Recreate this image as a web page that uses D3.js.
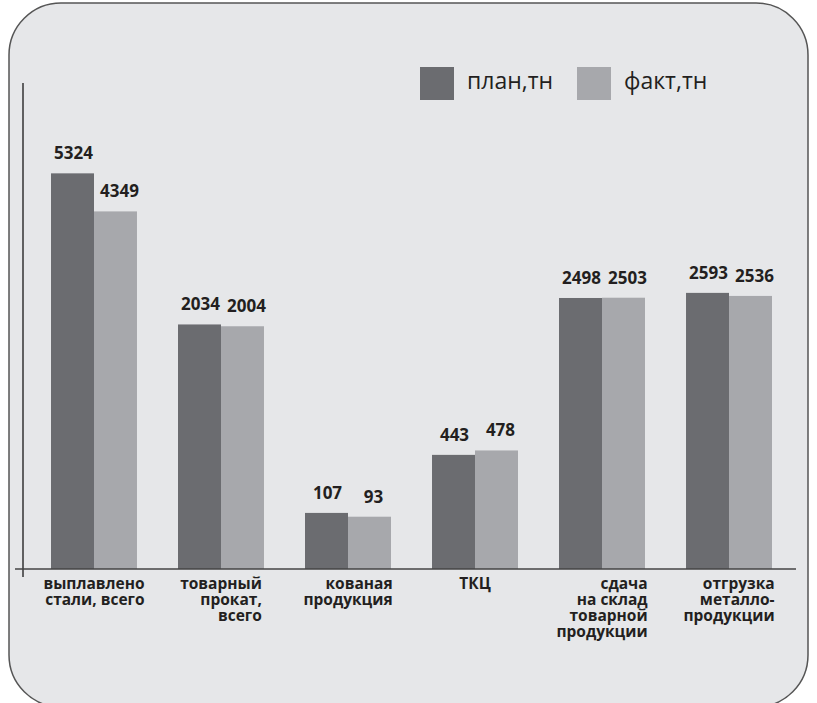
<!DOCTYPE html>
<html>
<head>
<meta charset="utf-8">
<script src="https://cdn.jsdelivr.net/npm/d3@7"></script>
<style>
  body { margin: 0; background: #fff; }
  svg { display: block; }
  text { font-family: "Open Sans", sans-serif; fill: #231f20; }
</style>
</head>
<body>
<svg id="chart" width="817" height="703"></svg>
<script>
// данные
var categories = ["выплавлено стали, всего", "товарный прокат, всего", "кованая продукция",
                  "ТКЦ", "сдача на склад товарной продукции", "отгрузка металло-продукции"];
var categoryLines = [
    ["выплавлено", "стали, всего"],
    ["товарный", "прокат,", "всего"],
    ["кованая", "продукция"],
    ["ТКЦ"],
    ["сдача", "на склад", "товарной", "продукции"],
    ["отгрузка", "металло-", "продукции"]
];
var series = ["план,тн", "факт,тн"];
var plan = [5324, 2034, 107, 443, 2498, 2593];
var fact = [4349, 2004, 93, 478, 2503, 2536];

var colors = { "план,тн": "#6b6c70", "факт,тн": "#a7a8ac" };

var svg = d3.select("#chart");

// фон с закруглёнными углами
svg.append("rect")
    .attr("x", 9).attr("y", 3)
    .attr("width", 799).attr("height", 704)
    .attr("rx", 52).attr("ry", 52)
    .attr("fill", "#e6e7e9")
    .attr("stroke", "#555")
    .attr("stroke-width", 1.5);

// шкалы
var x = d3.scaleBand()
    .domain(categories)
    .range([51, 772])
    .paddingInner(0.323)
    .paddingOuter(0);

var x1 = d3.scaleBand()
    .domain(series)
    .range([0, x.bandwidth()]);

var y = d3.scaleSqrt()
    .domain([0, 8000])
    .range([569, 84]);

var rows = categories.map(function (c, i) {
    return { cat: c, lines: categoryLines[i], values: [
        { key: series[0], value: plan[i] },
        { key: series[1], value: fact[i] }
    ] };
});

// столбцы
var groups = svg.append("g").selectAll("g")
    .data(rows)
    .join("g")
    .attr("transform", function (d) { return "translate(" + x(d.cat) + ",0)"; });

groups.selectAll("rect")
    .data(function (d) { return d.values; })
    .join("rect")
    .attr("x", function (d) { return x1(d.key); })
    .attr("y", function (d) { return y(d.value); })
    .attr("width", x1.bandwidth())
    .attr("height", function (d) { return y(0) - y(d.value); })
    .attr("fill", function (d) { return colors[d.key]; });

// подписи значений
groups.selectAll("text.val")
    .data(function (d) { return d.values; })
    .join("text")
    .attr("class", "val")
    .attr("x", function (d, i) { return x1(d.key) + x1.bandwidth() / 2 + (i ? 4 : 1); })
    .attr("y", function (d) { return y(d.value) - 14; })
    .attr("text-anchor", "middle")
    .style("font-size", "17px")
    .style("font-weight", "bold")
    .text(function (d) { return d.value; });

// оси
svg.append("line")
    .attr("x1", 23).attr("x2", 23)
    .attr("y1", y.range()[1] - 1).attr("y2", y(0) + 8)
    .attr("stroke", "#333").attr("stroke-width", 1.5);
svg.append("line")
    .attr("x1", 15).attr("x2", 796)
    .attr("y1", y(0)).attr("y2", y(0))
    .attr("stroke", "#444").attr("stroke-width", 1.5);

// подписи категорий (выравнивание вправо, блок по центру группы)
groups.each(function (d) {
    var g = d3.select(this);
    var t = g.append("text")
        .attr("text-anchor", "end")
        .style("font-size", "15.5px")
        .style("font-weight", "bold");
    d.lines.forEach(function (l, i) {
        t.append("tspan").attr("x", 0).attr("y", 589 + i * 16).text(l);
    });
    var w = 0;
    t.selectAll("tspan").each(function () { w = Math.max(w, this.getComputedTextLength()); });
    t.selectAll("tspan").attr("x", x.bandwidth() / 2 + w / 2);
});

// легенда
var legend = svg.append("g").selectAll("g")
    .data(series)
    .join("g")
    .attr("transform", function (d, i) { return "translate(" + (420 + i * 157) + ",67)"; });
legend.append("rect")
    .attr("width", 34).attr("height", 33)
    .attr("fill", function (d) { return colors[d]; });
legend.append("text")
    .attr("x", 47).attr("y", 22)
    .style("font-size", "23px")
    .text(function (d) { return d; });
</script>
</body>
</html>
